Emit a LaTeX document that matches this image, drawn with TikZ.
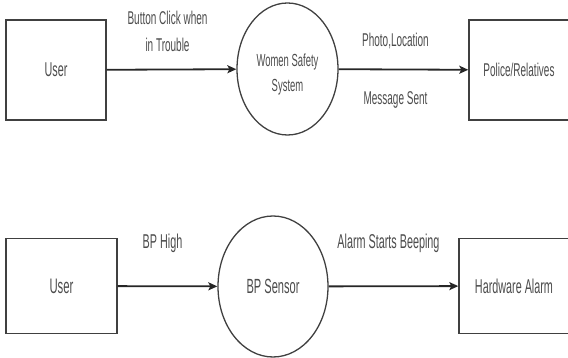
\documentclass[tikz,border=0pt]{standalone}
\usepackage{fontspec}
\setmainfont{Liberation Sans}[FakeStretch=0.54]
\usetikzlibrary{arrows.meta,shapes.geometric}

\tikzset{
  ent/.style={draw=black!75,line width=1.4pt,rectangle,inner sep=0pt,
    text=black!70,font=\fontsize{20}{26}\selectfont},
  proc/.style={draw=black!75,line width=1.3pt,ellipse,inner sep=0pt},
  flow/.style={draw=black!85,line width=1.8pt,-{Stealth[length=9pt,width=8pt,inset=2pt]}},
  lbl/.style={text=black!70,align=center,font=\fontsize{18.5}{27}\selectfont},
  lblb/.style={lbl,font=\fontsize{20}{27}\selectfont}
}

\begin{document}
\begin{tikzpicture}[x=1pt,y=1pt]
    \useasboundingbox (0,0) rectangle (568,358);
    \clip (0,0) rectangle (568,358);
    % women safety
    \node[ent,minimum width=100pt,minimum height=100pt] (user1) at (56,288) {User};
    \node[proc,minimum width=101pt,minimum height=132pt] (wss) at (287.5,289) {};
    \node[lbl,font=\fontsize{17.5}{25}\selectfont] (wsstxt) at ([yshift=-5pt]wss.center) {Women Safety\\System};
    \node[ent,minimum width=100pt,minimum height=100pt,font=\fontsize{18.5}{26}\selectfont] (police) at (519,288) {Police/Relatives};
    \draw[flow] (user1) -- (wss) node[lbl,midway,xshift=-4pt,yshift=38pt] {Button Click when\\in Trouble};
    \draw[flow] (wss) -- (police)
      node[lbl,midway,xshift=-8pt,yshift=29pt] {Photo,Location}
      node[lbl,midway,xshift=-8pt,yshift=-30pt] {Message Sent};
    % bp sensor
    \node[ent,minimum width=111pt,minimum height=95pt,font=\fontsize{21}{26}\selectfont] (user2) at (61.5,72) {User};
    \node[proc,minimum width=110pt,minimum height=141pt,font=\fontsize{20.5}{26}\selectfont,text=black!70] (bps) at (273,71.5) {BP Sensor};
    \node[ent,minimum width=110pt,minimum height=95pt] (alarm) at (514,72) {Hardware Alarm};
    \draw[flow] (user2) -- (bps) node[lblb,midway,xshift=-5pt,yshift=43pt] {BP High};
    \draw[flow] (bps) -- (alarm) node[lblb,midway,xshift=-5pt,yshift=43pt] {Alarm Starts Beeping};
\end{tikzpicture}
\end{document}
